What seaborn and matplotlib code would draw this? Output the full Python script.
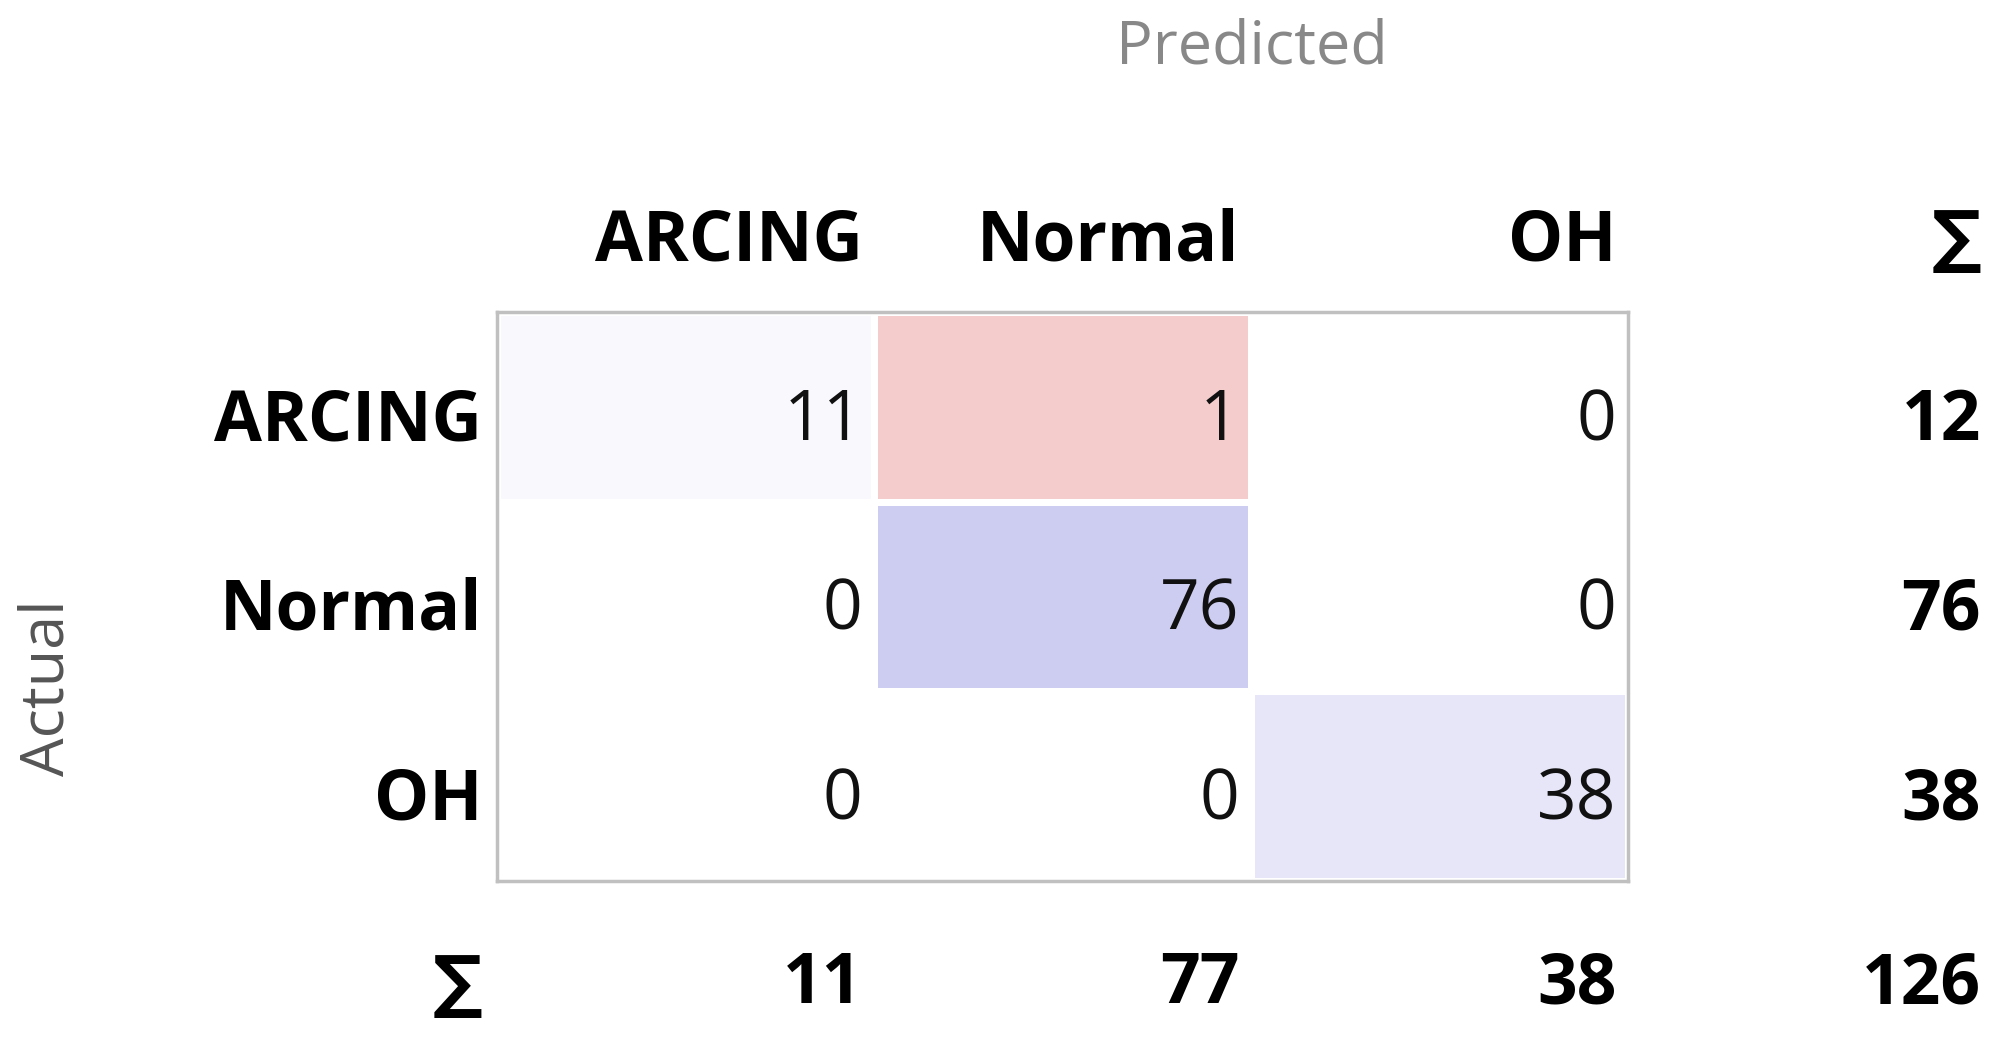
import numpy as np
import matplotlib
matplotlib.use("Agg")
import matplotlib.pyplot as plt
import seaborn as sns
from matplotlib.colors import LinearSegmentedColormap

classes = ["ARCING", "Normal", "OH"]
counts = np.array([[11, 1, 0],
                   [0, 76, 0],
                   [0, 0, 38]])
row_sums = [12, 76, 38]
col_sums = [11, 77, 38]
total = 126

sns.set_theme(style="white")
plt.rcParams['font.family'] = ['Open Sans', 'DejaVu Sans']
plt.rcParams['text.color'] = 'black'

shade = np.zeros(counts.shape, dtype=float)
for i in range(3):
    for j in range(3):
        if i == j:
            shade[i, j] = counts[i, j] / counts.max()
        elif counts[i, j] > 0:
            shade[i, j] = -0.5
cmap = LinearSegmentedColormap.from_list("cm", ["#e89999", "#ffffff", "#cdcdf2"])

fig = plt.figure(figsize=(19.97, 10.45), dpi=100)
ax = fig.add_axes([0.249, 0.157, 0.566, 0.544])
sns.heatmap(shade, ax=ax, cmap=cmap, vmin=-1, vmax=1, cbar=False,
            linewidths=5, linecolor="white", xticklabels=False, yticklabels=False)
for s in ax.spines.values():
    s.set_visible(True); s.set_color("#c0c0c0"); s.set_linewidth(2.5)

fs = 50
dy = 0.08
for i in range(3):
    for j in range(3):
        ax.text(j + 0.97, i + 0.5 + dy, str(counts[i, j]), ha="right", va="center",
                fontsize=fs, color="#111111")

for j, c in enumerate(classes):
    ax.text(j + 0.97, -0.45 + dy, c, ha="right", va="center", fontsize=fs, fontweight="bold", color="black")
    ax.text(j + 0.97, 3.55, str(col_sums[j]), ha="right", va="center", fontsize=fs, fontweight="bold", color="black")
for i, c in enumerate(classes):
    ax.text(-0.04, i + 0.5 + dy, c, ha="right", va="center", fontsize=fs, fontweight="bold", color="black")
    ax.text(2.0 + 1.97 * 0 + 3.0 * (0.992 - 0.249) / 0.566 - 2.0, i + 0.5 + dy, str(row_sums[i]),
            ha="right", va="center", fontsize=fs, fontweight="bold", color="black")
fig.text(0.992, 0.77, "∑", ha="right", va="center", fontsize=fs, fontweight="bold",
         family=['DejaVu Sans'], color="black")
ax.text(-0.04, 3.55, "∑", ha="right", va="center", fontsize=fs, fontweight="bold",
        family=['DejaVu Sans'], color="black")
ax.text(3.0 * (0.992 - 0.249) / 0.566, 3.55, str(total), ha="right", va="center",
        fontsize=fs, fontweight="bold", color="black")

fig.text(0.627, 0.955, "Predicted", ha="center", va="center", fontsize=44, color="#888888")
fig.text(0.024, 0.342, "Actual", ha="center", va="center", fontsize=44, color="#555555", rotation=90)

fig.savefig("out.png", dpi=100)
